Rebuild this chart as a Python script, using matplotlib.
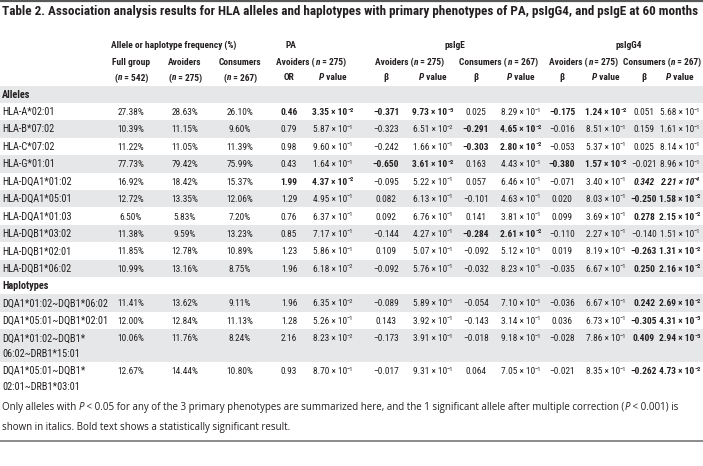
import math
import matplotlib
matplotlib.use('Agg')
import matplotlib.pyplot as plt
from matplotlib import font_manager as fm
from matplotlib.patches import Rectangle

# ---------------- data ----------------
title = ("Table 2. Association analysis results for HLA alleles and haplotypes with "
         "primary phenotypes of PA, psIgG4, and psIgE at 60 months")

alleles = ['HLA-A*02:01', 'HLA-B*07:02', 'HLA-C*07:02', 'HLA-G*01:01', 'HLA-DQA1*01:02',
           'HLA-DQA1*05:01', 'HLA-DQA1*01:03', 'HLA-DQB1*03:02', 'HLA-DQB1*02:01',
           'HLA-DQB1*06:02']
haplotypes = ['DQA1*01:02~DQB1*06:02', 'DQA1*05:01~DQB1*02:01',
              'DQA1*01:02~DQB1*\n06:02~DRB1*15:01', 'DQA1*05:01~DQB1*\n02:01~DRB1*03:01']

freq_full = [27.38, 10.39, 11.22, 77.73, 16.92, 12.72, 6.50, 11.38, 11.85, 10.99,
             11.41, 12.00, 10.06, 12.67]
freq_avoid = [28.63, 11.15, 11.05, 79.42, 18.42, 13.35, 5.83, 9.59, 12.78, 13.16,
              13.62, 12.84, 11.76, 14.44]
freq_cons = [26.10, 9.60, 11.39, 75.99, 15.37, 12.06, 7.20, 13.23, 10.89, 8.75,
             9.11, 11.13, 8.24, 10.80]
pa_or = [0.46, 0.79, 0.98, 0.43, 1.99, 1.29, 0.76, 0.85, 1.23, 1.96,
         1.96, 1.28, 2.16, 0.93]
pa_p = [3.35e-2, 5.87e-1, 9.60e-1, 1.64e-1, 4.37e-2, 4.95e-1, 6.37e-1, 7.17e-1, 5.86e-1, 6.18e-2,
        6.35e-2, 5.26e-1, 8.23e-2, 8.70e-1]
ige_av_b = [-0.371, -0.323, -0.242, -0.650, -0.095, 0.082, 0.092, -0.144, 0.109, -0.092,
            -0.089, 0.143, -0.173, -0.017]
ige_av_p = [9.73e-3, 6.51e-2, 1.66e-1, 3.61e-2, 5.22e-1, 6.13e-1, 6.76e-1, 4.27e-1, 5.07e-1, 5.76e-1,
            5.89e-1, 3.92e-1, 3.91e-1, 9.31e-1]
ige_co_b = [0.025, -0.291, -0.303, 0.163, 0.057, -0.101, 0.141, -0.284, -0.092, -0.032,
            -0.054, -0.143, -0.018, 0.064]
ige_co_p = [8.29e-1, 4.65e-2, 2.80e-2, 4.43e-1, 6.46e-1, 4.63e-1, 3.81e-1, 2.61e-2, 5.12e-1, 8.23e-1,
            7.10e-1, 3.14e-1, 9.18e-1, 7.05e-1]
g4_av_b = [-0.175, -0.016, -0.053, -0.380, -0.071, 0.020, 0.099, -0.110, 0.019, -0.035,
           -0.036, 0.036, -0.028, -0.021]
g4_av_p = [1.24e-2, 8.51e-1, 5.37e-1, 1.57e-2, 3.40e-1, 8.03e-1, 3.69e-1, 2.27e-1, 8.19e-1, 6.67e-1,
           6.67e-1, 6.73e-1, 7.86e-1, 8.35e-1]
g4_co_b = [0.051, 0.159, 0.025, -0.021, 0.342, -0.250, 0.278, -0.140, -0.263, 0.250,
           0.242, -0.305, 0.409, -0.262]
g4_co_p = [5.68e-1, 1.61e-1, 8.14e-1, 8.96e-1, 2.21e-4, 1.58e-2, 2.15e-2, 1.51e-1, 1.31e-2, 2.16e-2,
           2.69e-2, 4.31e-3, 2.94e-3, 4.73e-2]

group_headers = ['Allele or haplotype frequency (%)', 'PA', 'psIgE', 'psIgG4']
sig_level = 0.05
multi_level = 0.001

# ---------------- style / layout ----------------
def pick(cands):
    for c in cands:
        try:
            fm.findfont(fm.FontProperties(family=c), fallback_to_default=False)
            return c
        except Exception:
            pass
    return 'DejaVu Sans'

COND = pick(['Liberation Sans Narrow', 'Roboto Condensed', 'DejaVu Sans Condensed', 'Liberation Sans'])
NOTE = pick(['Open Sans', 'Noto Sans', 'Lato'])
FAM_C = [COND, 'DejaVu Sans']
FAM_N = [NOTE, 'DejaVu Sans']

TXT = '#231f20'
GRAY = '#e6e7e8'
FS_LAB = 7.4
FS_DAT = 6.75
FS_HEAD = 6.75
W, H = 703, 466

X_LABEL = 2
XC = [131, 185, 240, 289, 333, 386, 433, 476, 521, 562, 606, 644, 680]
XG = [174, 291, 455, 629]

fig = plt.figure(figsize=(W / 100, H / 100), dpi=100)
ax = fig.add_axes([0, 0, 1, 1])
ax.set_xlim(0, W)
ax.set_ylim(H, 0)
ax.axis('off')
renderer = fig.canvas.get_renderer()


def make_runs(x, y, runs, ha='center', family=FAM_C, size=FS_DAT, weight='normal'):
    objs = []
    for r in runs:
        if isinstance(r, str):
            r = (r, {})
        s, kw = r
        t = ax.text(0, y - kw.get('dy', 0), s, fontsize=size * kw.get('scale', 1.0),
                    fontweight=kw.get('weight', weight), fontstyle=kw.get('style', 'normal'),
                    family=family, color=TXT, ha='left', va='baseline')
        objs.append(t)
    ws = [t.get_window_extent(renderer).width for t in objs]
    total = sum(ws)
    if ha == 'center':
        x0 = x - total / 2
    elif ha == 'right':
        x0 = x - total
    else:
        x0 = x
    x0 = min(x0, W - 2 - total)
    for t, w in zip(objs, ws):
        t.set_x(x0)
        x0 += w
    return objs, total


def fit_size(runs, family, weight, target):
    objs, total = make_runs(0, -100, runs, ha='left', family=family, size=10, weight=weight)
    for o in objs:
        o.remove()
    return 10 * target / total


def pfmt(p):
    e = int(math.floor(math.log10(p)))
    m = p / 10 ** e
    if round(m, 2) >= 10:
        e += 1
        m = p / 10 ** e
    return f'{m:.2f} \u00d7 10', ('\u2212' + str(-e)) if e < 0 else str(e)


def bfmt(b, nd=3):
    s = f'{abs(b):.{nd}f}'
    return ('\u2212' + s) if b < 0 else s


def pval_runs(p, weight, style):
    a, e = pfmt(p)
    return [(a, {'weight': weight, 'style': style}),
            (e, {'weight': weight, 'style': style, 'scale': 0.68, 'dy': 3.6})]


# top rule
ax.axhline(1.0, color='#58595b', lw=1.6)

# title
ts = fit_size([title], FAM_C, 'bold', 694)
make_runs(2, 15.5, [title], ha='left', size=ts, weight='bold')

# header rows
HB = 3.5
y1, y2, y3 = 44, 61.5, 77
for xg, g in zip(XG, group_headers):
    make_runs(xg, y1 + HB, [g], weight='bold', size=FS_HEAD)

n_it = {'style': 'italic'}
for x, s in zip(XC[:3], ['Full group', 'Avoiders', 'Consumers']):
    make_runs(x, y2 + HB, [s], weight='bold', size=FS_HEAD)
for x, s in zip(XC[:3], ['542', '275', '267']):
    make_runs(x, y3 + HB, ['(', ('n', n_it), ' = ' + s + ')'], weight='bold', size=FS_HEAD)
for i, (lab, n) in enumerate([('Avoiders', '275'), ('Avoiders', '275'), ('Consumers', '267'),
                              ('Avoiders', '275'), ('Consumers', '267')]):
    xa, xb = XC[3 + 2 * i], XC[4 + 2 * i]
    runs = [lab + ' (', ('n', n_it), ' = ' + n + ')']
    make_runs((xa + xb) / 2, y2 + HB, runs, weight='bold', size=FS_HEAD)
    make_runs(xa, y3 + HB, ['OR' if i == 0 else '\u03b2'], weight='bold', size=FS_HEAD)
    make_runs(xb, y3 + HB, [('P', n_it), ' value'], weight='bold', size=FS_HEAD)

# body rows
ROW_H = 17.4
LINE_H = 15.5
top = 85.5
rows = [('section', 'Alleles')] + [('data', i) for i in range(len(alleles))] + \
       [('section', 'Haplotypes')] + [('data', len(alleles) + j) for j in range(len(haplotypes))]
labels = alleles + haplotypes
shade = True
for kind, v in rows:
    nlines = 1 if kind == 'section' else labels[v].count('\n') + 1
    h = ROW_H + LINE_H * (nlines - 1)
    if shade:
        ax.add_patch(Rectangle((0, top), W, h, facecolor=GRAY, edgecolor='none', zorder=0))
    shade = not shade
    yb = top + ROW_H / 2 + 3.5
    if kind == 'section':
        make_runs(X_LABEL, yb, [v], ha='left', weight='bold', size=FS_LAB)
    else:
        i = v
        for k, line in enumerate(labels[i].split('\n')):
            make_runs(X_LABEL, yb + k * LINE_H, [line], ha='left', size=FS_LAB)
        make_runs(XC[0], yb, [f'{freq_full[i]:.2f}%'])
        make_runs(XC[1], yb, [f'{freq_avoid[i]:.2f}%'])
        make_runs(XC[2], yb, [f'{freq_cons[i]:.2f}%'])
        pairs = [(pa_or[i], pa_p[i], 2), (ige_av_b[i], ige_av_p[i], 3), (ige_co_b[i], ige_co_p[i], 3),
                 (g4_av_b[i], g4_av_p[i], 3), (g4_co_b[i], g4_co_p[i], 3)]
        for j, (b, p, nd) in enumerate(pairs):
            wt = 'bold' if p < sig_level else 'normal'
            st = 'italic' if p < multi_level else 'normal'
            make_runs(XC[3 + 2 * j], yb, [(bfmt(b, nd), {'weight': wt, 'style': st})])
            make_runs(XC[4 + 2 * j], yb, pval_runs(p, wt, st))
    top += h

# footnote
it = {'style': 'italic'}
foot1 = ['Only alleles with ', ('P', it),
         ' < 0.05 for any of the 3 primary phenotypes are summarized here, and the 1 significant '
         'allele after multiple correction (', ('P', it), ' < 0.001) is']
foot2 = ['shown in italics. Bold text shows a statistically significant result.']
fs_note = fit_size(foot1, FAM_N, 'normal', 673)
make_runs(2, top + 15, foot1, ha='left', family=FAM_N, size=fs_note)
make_runs(2, top + 35, foot2, ha='left', family=FAM_N, size=fs_note)

ax.axhline(top + 46, color='#808285', lw=1.3)

fig.savefig('out.png', dpi=100, facecolor='white')
